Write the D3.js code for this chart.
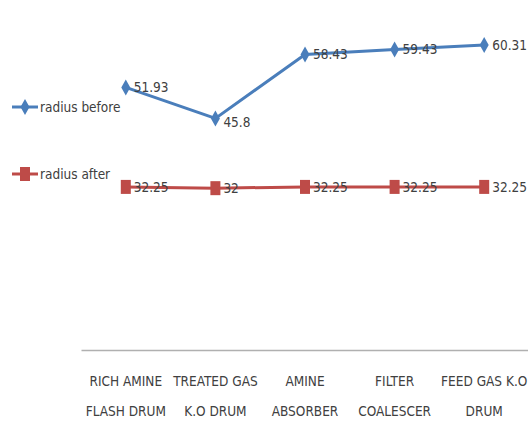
<!DOCTYPE html>
<html><head><meta charset="utf-8">
<script src="https://cdn.jsdelivr.net/npm/d3@7"></script>
<style>body{margin:0;background:#fff}svg{display:block}text{font-family:"Liberation Sans Narrow","DejaVu Sans Condensed","Open Sans",sans-serif;}</style>
</head><body><div id="c"></div>
<script>
const categories = [["RICH AMINE","FLASH DRUM"],["TREATED GAS","K.O DRUM"],["AMINE","ABSORBER"],["FILTER","COALESCER"],["FEED GAS K.O","DRUM"]];
const radiusBefore = [51.93, 45.8, 58.43, 59.43, 60.31];
const radiusAfter = [32.25, 32, 32.25, 32.25, 32.25];
const seriesNames = ["radius before", "radius after"];

const W = 528, H = 424;
const svg = d3.select("#c").append("svg").attr("width", W).attr("height", H);
const x = d3.scaleBand().domain(d3.range(categories.length)).range([81, 529]);
const y = d3.scaleLinear().domain([0, 70]).range([350, -4]);
const cx = i => x(i) + x.bandwidth() / 2;

// axis
const ax = svg.append("g").attr("transform", "translate(0,350)")
  .call(d3.axisBottom(x).tickSize(0).tickFormat(""));
ax.select(".domain").attr("stroke", "#b0b0b0").attr("stroke-width", 1.5);
ax.selectAll(".tick").each(function(d) {
  const t = d3.select(this).append("text").attr("fill", "#404040").attr("font-size", 13.5).attr("text-anchor", "middle");
  categories[d].forEach((s, k) => t.append("tspan").attr("x", 0).attr("y", 36 + k * 30).text(s));
});

const series = [
  {name: seriesNames[0], vals: radiusBefore, color: "#4a7ebb", shape: "diamond", dy: [0, 4, 0, 0, 0]},
  {name: seriesNames[1], vals: radiusAfter, color: "#be4b48", shape: "square", dy: [0, 0, 0, 0, 0]}
];
function marker(g, shape, color) {
  if (shape === "diamond") g.append("path").attr("d", "M0,-8L4.5,0L0,8L-4.5,0Z").attr("fill", color);
  else g.append("rect").attr("x", -5).attr("y", -7).attr("width", 10).attr("height", 14).attr("fill", color);
}
series.forEach(s => {
  svg.append("path").datum(s.vals)
    .attr("d", d3.line().x((d, i) => cx(i)).y(d => y(d)))
    .attr("fill", "none").attr("stroke", s.color).attr("stroke-width", 3);
  s.vals.forEach((v, i) => {
    const g = svg.append("g").attr("transform", `translate(${cx(i)},${y(v)})`);
    marker(g, s.shape, s.color);
    svg.append("text").attr("x", cx(i) + 8).attr("y", y(v) + s.dy[i]).attr("dy", "0.35em")
      .attr("font-size", 13.5).attr("fill", "#404040").text(v);
  });
});

// legend
const legY = [107, 174];
series.forEach((s, k) => {
  svg.append("line").attr("x1", 12).attr("x2", 38).attr("y1", legY[k]).attr("y2", legY[k])
    .attr("stroke", s.color).attr("stroke-width", 3);
  const g = svg.append("g").attr("transform", `translate(25,${legY[k]})`);
  marker(g, s.shape, s.color);
  svg.append("text").attr("x", 40).attr("y", legY[k]).attr("dy", "0.35em")
    .attr("font-size", 13.5).attr("fill", "#404040").text(s.name);
});
</script></body></html>
